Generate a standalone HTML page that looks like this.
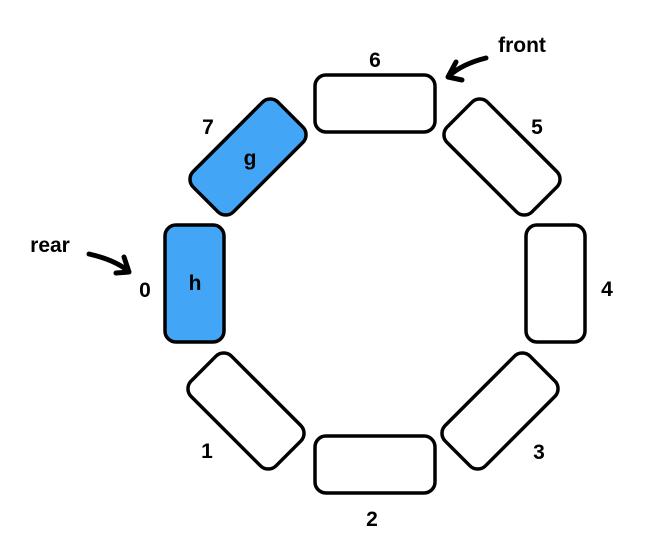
<!DOCTYPE html>
<html><head><meta charset="utf-8"><style>
html,body{margin:0;padding:0;background:#fff;}
svg text{font-family:"Liberation Sans Narrow","Liberation Sans",sans-serif;font-weight:bold;fill:#000;}
</style></head><body>
<svg width="662" height="544" viewBox="0 0 662 544" xmlns="http://www.w3.org/2000/svg">
<g stroke="#000" stroke-width="3.5" fill="#fff">
  <rect x="315" y="75" width="120" height="57" rx="11"/>
  <rect x="315" y="436" width="120" height="57" rx="11"/>
  <rect x="165" y="225" width="59" height="117" rx="11" fill="#42a5f5"/>
  <rect x="526" y="225" width="59" height="117" rx="11"/>
  <rect x="-60" y="-28.5" width="120" height="57" rx="11" fill="#42a5f5" transform="translate(248,157) rotate(-45)"/>
  <rect x="-60" y="-28.5" width="120" height="57" rx="11" transform="translate(502,157) rotate(45)"/>
  <rect x="-60" y="-28.5" width="120" height="57" rx="11" transform="translate(246,411) rotate(45)"/>
  <rect x="-60" y="-28.5" width="120" height="57" rx="11" transform="translate(500,411) rotate(-45)"/>
</g>
<g font-size="21" text-anchor="middle">
  <text x="375" y="67">6</text>
  <text x="208" y="134">7</text>
  <text x="537" y="134">5</text>
  <text x="607" y="296">4</text>
  <text x="539" y="459">3</text>
  <text x="372" y="526">2</text>
  <text x="207" y="458">1</text>
  <text x="145" y="297">0</text>
  <text x="250" y="165">g</text>
  <text x="195" y="290">h</text>
  <text x="522" y="52">front</text>
  <text x="50" y="252">rear</text>
</g>
<g stroke="#000" stroke-width="5" fill="none" stroke-linecap="round" stroke-linejoin="round">
  <path d="M486 58 Q462 64 449 76"/>
  <path d="M456 62 L448 77 L462 80"/>
  <path d="M89 254 Q115 260 128 271"/>
  <path d="M124 257 L129 272 L116 273"/>
</g>
</svg>
</body></html>
